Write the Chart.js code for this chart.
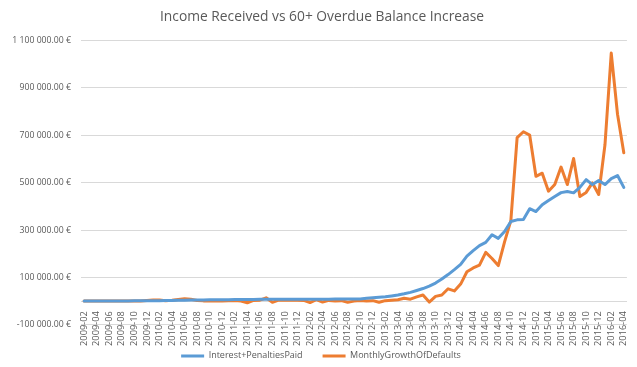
<!DOCTYPE html>
<html>
<head>
<meta charset="utf-8">
<script src="https://cdn.jsdelivr.net/npm/chart.js@4.4.0/dist/chart.umd.min.js"></script>
<style>
  html, body { margin: 0; padding: 0; background: #ffffff; }
  #wrap { width: 637px; height: 367px; }
</style>
</head>
<body>
<div id="wrap"><canvas id="c" width="637" height="367"></canvas></div>
<script>
const months = [
  "2009-02","2009-03","2009-04","2009-05","2009-06","2009-07","2009-08","2009-09","2009-10","2009-11","2009-12",
  "2010-01","2010-02","2010-03","2010-04","2010-05","2010-06","2010-07","2010-08","2010-09","2010-10","2010-11","2010-12",
  "2011-01","2011-02","2011-03","2011-04","2011-05","2011-06","2011-07","2011-08","2011-09","2011-10","2011-11","2011-12",
  "2012-01","2012-02","2012-03","2012-04","2012-05","2012-06","2012-07","2012-08","2012-09","2012-10","2012-11","2012-12",
  "2013-01","2013-02","2013-03","2013-04","2013-05","2013-06","2013-07","2013-08","2013-09","2013-10","2013-11","2013-12",
  "2014-01","2014-02","2014-03","2014-04","2014-05","2014-06","2014-07","2014-08","2014-09","2014-10","2014-11","2014-12",
  "2015-01","2015-02","2015-03","2015-04","2015-05","2015-06","2015-07","2015-08","2015-09","2015-10","2015-11","2015-12",
  "2016-01","2016-02","2016-03","2016-04"
];

const interestPenaltiesPaid = [
  0, 0, 0, 500, 500, 1000, 1000, 1000, 1500, 1500, 1500,
  2000, 2000, 2500, 3000, 3500, 4000, 4500, 5000, 5000, 5500, 5500, 6000,
  6000, 6500, 6500, 7000, 7000, 7500, 7500, 8000, 8000, 8000, 8000, 8000,
  8000, 8000, 8000, 8000, 8000, 8500, 8500, 8500, 9000, 9000, 12000, 14000,
  16000, 18000, 22000, 26000, 31000, 37000, 45000, 53000, 63000, 76000, 93000, 112000,
  133000, 155000, 190000, 213000, 234000, 248000, 280000, 265000, 294000, 336000, 343000, 345000,
  390000, 378000, 407000, 425000, 442000, 458000, 463000, 457000, 480000, 513000, 492000, 509000,
  492000, 517000, 530000, 480000
];

const monthlyGrowthOfDefaults = [
  0, 0, 0, 0, 0, 0, 0, 0, 0, 0, 3000,
  5000, 5000, 2000, 4000, 7000, 10000, 8000, 3000, 1000, 0, 1000, 0,
  2000, 3000, 0, -7000, 3000, 4000, 14000, -5000, 4000, 4000, 4000, 4000,
  3000, -6000, 6000, -4000, 3000, 0, 2000, -5000, 0, 3000, 0, 2000,
  -5000, 2000, 4000, 6000, 12000, 8000, 18000, 26000, -4000, 20000, 26000, 52000,
  43000, 72000, 124000, 140000, 152000, 206000, 180000, 150000, 250000, 340000, 690000, 715000,
  701000, 527000, 540000, 464000, 492000, 566000, 492000, 602000, 442000, 459000, 499000, 450000,
  660000, 1047000, 789000, 626000
];

const seriesNames = ["Interest+PenaltiesPaid", "MonthlyGrowthOfDefaults"];
const chartTitle = "Income Received vs 60+ Overdue Balance Increase";

const yMin = -100000, yMax = 1100000, yStep = 200000;

function euro(v) {
  const neg = v < 0;
  const s = Math.abs(v).toFixed(2);
  const parts = s.split(".");
  const intPart = parts[0].replace(/\B(?=(\d{3})+(?!\d))/g, " ");
  return (neg ? "-" : "") + intPart + "." + parts[1] + " €";
}

const textColor = "#595959";
const fontFam = "'Open Sans', 'Liberation Sans', sans-serif";

const boxShift = {
  id: "boxShift",
  afterLayout(chart) {
    if (chart.legend) {
      chart.legend.top += 6.6;
      chart.legend.bottom += 6.6;
      chart.legend.left += 6;
      chart.legend.right += 6;
    }
    if (chart.titleBlock) {
      chart.titleBlock.left += 7;
      chart.titleBlock.right += 7;
    }
  }
};

new Chart(document.getElementById("c"), {
  type: "line",
  data: {
    labels: months,
    datasets: [
      {
        label: seriesNames[0],
        data: interestPenaltiesPaid,
        borderColor: "#5B9BD5",
        backgroundColor: "#5B9BD5",
        borderWidth: 3,
        pointRadius: 0,
        tension: 0,
        borderJoinStyle: "round",
        borderCapStyle: "round"
      },
      {
        label: seriesNames[1],
        data: monthlyGrowthOfDefaults,
        borderColor: "#ED7D31",
        backgroundColor: "#ED7D31",
        borderWidth: 3,
        pointRadius: 0,
        tension: 0,
        borderJoinStyle: "round",
        borderCapStyle: "round"
      }
    ]
  },
  options: {
    responsive: false,
    animation: false,
    layout: { padding: { left: 0, right: 7, top: 0, bottom: 3.2 } },
    plugins: {
      title: {
        display: true,
        text: chartTitle,
        color: textColor,
        font: { family: fontFam, size: 13.8, weight: "normal" },
        padding: { top: 9, bottom: 15 }
      },
      legend: {
        position: "bottom",
        labels: {
          color: textColor,
          font: { family: fontFam, size: 9 },
          usePointStyle: true,
          pointStyle: "line",
          pointStyleWidth: 23,
          padding: 20
        }
      },
      tooltip: { enabled: false }
    },
    scales: {
      x: {
        type: "category",
        position: { y: 0 },
        offset: true,
        grid: { display: false },
        border: { display: true, color: "#d9d9d9", width: 1 },
        ticks: {
          autoSkip: false,
          minRotation: 90,
          maxRotation: 90,
          padding: 2,
          color: textColor,
          font: { family: fontFam, size: 9.3 },
          callback: function (value, index) { return index % 2 === 0 ? months[index] : null; }
        }
      },
      y: {
        min: yMin,
        max: yMax,
        afterFit(scale) { scale.width = 81; },
        border: { display: false },
        grid: { color: "#d9d9d9", lineWidth: 1, drawTicks: false },
        ticks: {
          stepSize: yStep,
          padding: 10,
          color: textColor,
          font: { family: fontFam, size: 8.7 },
          callback: function (v) { return euro(v); }
        }
      }
    }
  },
  plugins: [boxShift]
});
</script>
</body>
</html>
